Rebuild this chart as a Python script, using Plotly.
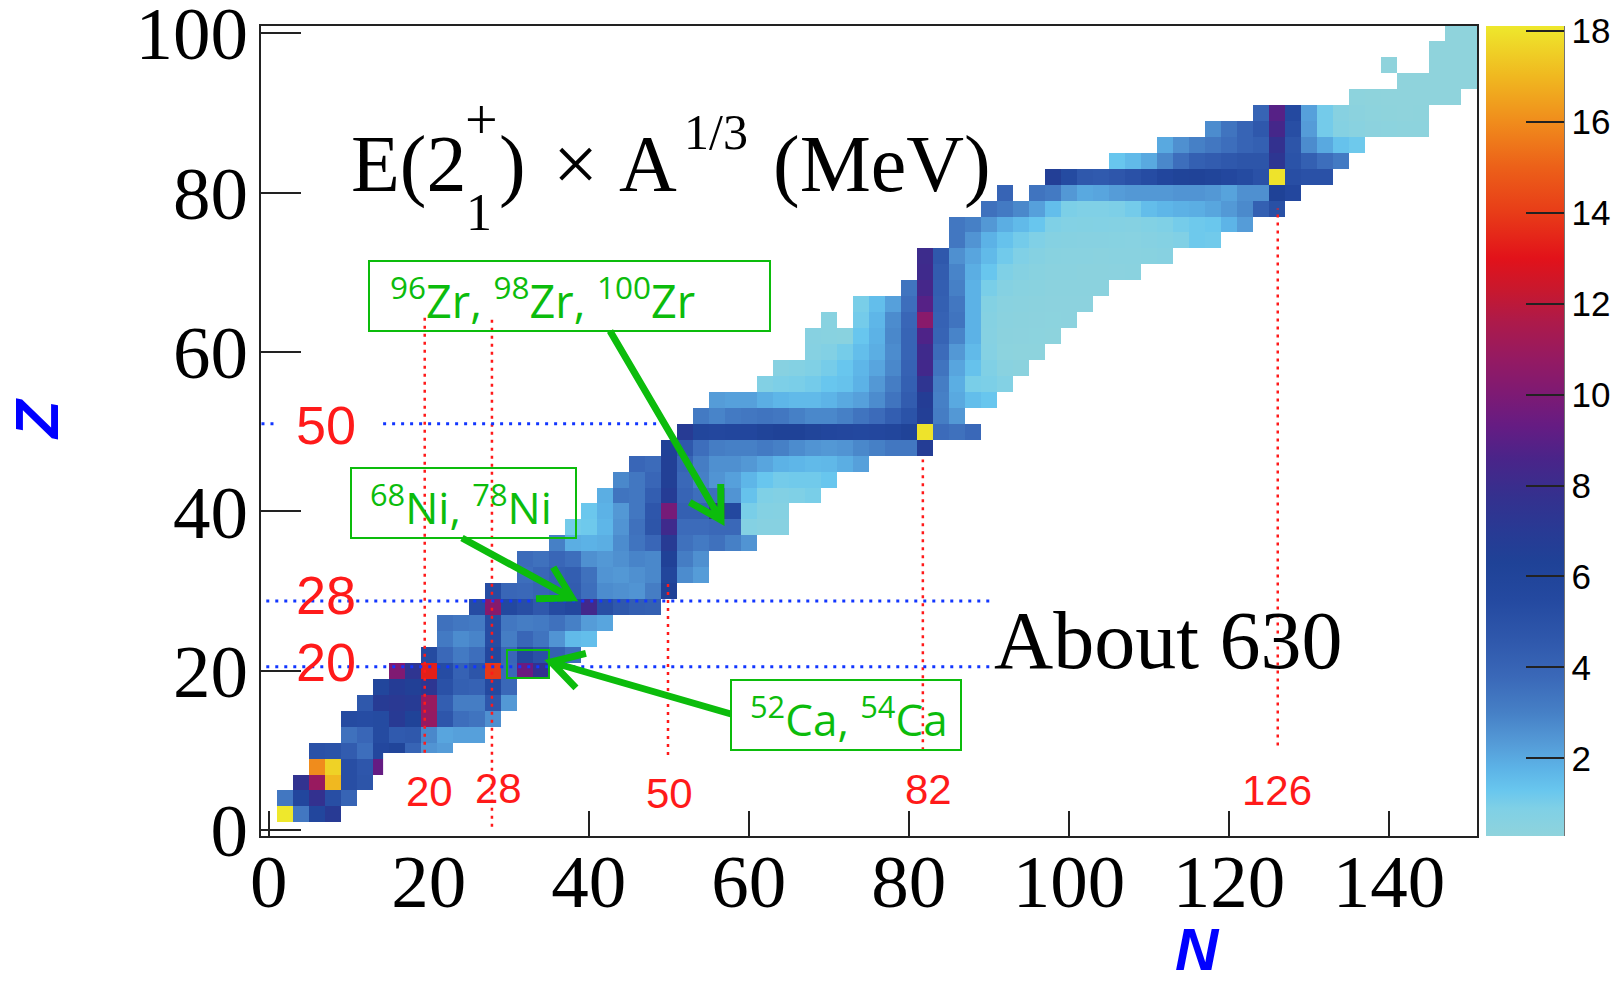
import math
import plotly.graph_objects as go

# E(2+_1) x A^(1/3) in MeV for even-even nuclei.
# One tuple per element: (Z, first N, values at N, N+2, N+4, ...); None = no nucleus drawn.
He = (2, 2, [18.5, 3.3, 5.8, 7.0])
Be = (4, 2, [3.3, 5.8, 7.7, 5.2, 4.0])
C = (6, 4, [7.6, 10.9, 17.0, 5.2, 4.8])
O = (8, 6, [16.0, 17.6, 5.2, 4.7, 9.3])
Ne = (10, 6, [5.0, 4.9, 4.4, 3.6, 5.7, 6.0, 4.0, 2.5, 2.3])
Mg = (12, 10, [3.5, 3.9, 5.4, 4.5, 4.6, 2.8, 2.1, 2.2, 2.2])
Si = (14, 10, [5.4, 5.3, 5.4, 7.0, 6.2, 10.8, 4.7, 3.6, 3.4, 2.6])
S = (16, 12, [4.6, 6.9, 7.1, 6.9, 10.9, 4.3, 3.1, 3.1, 4.7, 2.4])
Ar = (18, 14, [5.9, 6.8, 6.5, 7.3, 5.0, 4.2, 4.1, 5.5, 3.8])
Ca = (20, 16, [10.1, 7.4, 13.3, 5.3, 4.1, 4.8, 13.9, 3.8, 9.5, 7.7])
Ti = (22, 20, [5.4, 3.8, 3.2, 3.6, 5.7, 3.9, 5.7, 5.0, 4.2, 3.6])
Cr = (24, 22, [3.2, 2.7, 2.9, 5.3, 3.1, 3.9, 3.4, 2.5, 1.6, 1.5])
Fe = (26, 22, [3.5, 3.3, 3.2, 5.3, 3.3, 3.1, 3.2, 3.5, 3.0, 2.3, 2.1])
Ni = (28, 26, [5.3, 10.3, 5.6, 5.2, 4.6, 5.4, 5.7, 8.3, 5.2, 4.6, 4.3, 4.2])
Zn = (30, 28, [5.3, 3.9, 3.8, 4.0, 4.2, 4.4, 3.6, 2.7, 2.6, 2.5, 3.1, 6.4])
Ge = (32, 32, [3.6, 3.9, 4.2, 4.3, 3.5, 2.5, 2.4, 2.6, 2.8, 5.9, 2.7, 2.3])
Se = (34, 32, [3.7, 3.5, 3.9, 3.6, 2.6, 2.4, 2.6, 2.9, 2.8, 6.4, 3.1, 2.6])
Kr = (36, 36, [3.0, 1.9, 1.8, 1.9, 2.7, 3.4, 3.9, 6.9, 3.5, 3.2, 3.5, 3.0, 2.5])
Sr = (38, 38, [1.1, 1.2, 1.7, 2.5, 3.5, 4.8, 8.2, 3.7, 3.7, 3.8, 3.8, 0.7, 0.6, 0.6])
Zr = (40, 40, [1.25, 1.8, 2.4, 3.3, 4.7, 9.8, 4.2, 4.2, 8.0, 5.6, 1.0, 0.7, 0.66])
Mo = (42, 42, [1.9, 3.4, 3.3, 4.3, 6.8, 4.0, 3.6, 3.6, 2.5, 1.4, 0.9, 0.8, 0.9, 1.0])
Ru = (44, 44, [2.8, 3.3, 3.9, 6.5, 3.8, 3.0, 2.5, 2.2, 1.7, 1.3, 1.1, 1.15, 1.15, 1.3])
Pd = (46, 46, [3.9, 3.7, 6.5, 4.0, 3.1, 2.6, 2.6, 2.4, 2.1, 1.8, 1.7, 1.6, 1.65, 1.9, 2.2])
Cd = (48, 50, [6.4, 4.6, 3.6, 3.1, 3.0, 3.0, 3.2, 3.0, 2.7, 2.5, 2.4, 2.5, 2.8, 3.0, 3.3, 3.3, 6.7])
Sn = (50, 52, [6.9, 5.9, 5.7, 5.8, 5.8, 6.1, 6.3, 6.3, 6.0, 5.8, 5.7, 5.6, 5.7, 5.9, 6.2, 18.0,
               3.7, 3.5, 3.8])
Te = (52, 54, [3.2, 2.9, 3.2, 3.3, 3.4, 3.3, 3.0, 2.8, 2.8, 3.0, 3.4, 3.7, 4.3, 4.9, 6.6, 3.1, 2.4])
Xe = (54, 56, [2.3, 2.2, 2.2, 1.9, 1.7, 1.6, 1.6, 1.75, 2.0, 2.2, 2.7, 3.4, 4.4, 6.7, 3.0, 2.0,
               1.5, 1.3])
Ba = (56, 62, [0.8, 0.94, 0.98, 1.1, 1.3, 1.4, 1.8, 2.4, 3.1, 4.2, 7.4, 3.1, 1.9, 1.0, 0.95, 0.75])
Ce = (58, 64, [0.6, 0.7, 0.85, 1.05, 1.3, 1.7, 2.1, 2.8, 4.1, 8.3, 3.4, 2.1, 1.4, 0.85, 0.53, 0.43])
Nd = (60, 68, [0.65, 0.8, 1.07, 1.5, 1.9, 2.7, 4.0, 8.2, 3.7, 2.4, 1.6, 0.69, 0.39, 0.38, 0.36])
Sm = (62, 68, [0.6, 0.55, 0.5, 1.3, 1.8, 2.8, 4.0, 8.7, 4.0, 2.9, 1.8, 0.65, 0.44, 0.41, 0.39,
               0.38])
Gd = (64, 70, [0.55, None, 1.1, 1.7, 2.7, 3.9, 10.4, 4.1, 3.4, 1.8, 0.66, 0.48, 0.43, 0.41, 0.39,
               0.4])
Dy = (66, 74, [1.0, 1.5, 2.2, 3.6, 8.9, 4.2, 3.3, 1.8, 0.74, 0.53, 0.47, 0.44, 0.4, 0.42, 0.41])
Er = (68, 80, [3.4, 8.4, 4.3, 3.0, 1.8, 1.0, 0.68, 0.55, 0.5, 0.44, 0.44, 0.44, 0.43])
Yb = (70, 82, [8.2, 4.4, 2.9, 1.9, 1.3, 0.9, 0.67, 0.56, 0.49, 0.47, 0.44, 0.43, 0.46, 0.47])
Hf = (72, 82, [8.1, 4.6, 2.6, 2.1, 1.6, 1.15, 0.87, 0.68, 0.55, 0.53, 0.51, 0.49, 0.52, 0.53, 0.56,
               0.61])
W = (74, 86, [3.3, 2.5, 1.8, 1.4, 1.1, 0.87, 0.68, 0.62, 0.61, 0.6, 0.59, 0.57, 0.63, 0.7, 0.82,
              1.19, 1.15])
Os = (76, 86, [3.3, 3.0, 2.4, 1.9, 1.6, 1.3, 0.9, 0.76, 0.74, 0.75, 0.72, 0.68, 0.78, 0.89, 1.08,
               1.19, 1.26, 1.74, 2.3])
Pt = (78, 90, [3.5, 3.2, 2.8, 2.2, 1.5, 0.96, 0.87, 0.88, 0.93, 1.09, 1.52, 1.7, 1.83, 1.9, 2.07,
               2.37, 2.75, 4.2, 5.1])
Hg = (80, 92, [4.0, None, 3.4, 3.2, 2.4, 2.0, 2.1, 2.3, 2.4, 2.4, 2.4, 2.5, 2.5, 2.4, 2.15, 2.6,
               2.6, 6.3, 5.7])
Pb = (82, 98, [6.6, 5.4, 4.6, 4.5, 4.7, 5.0, 5.3, 5.8, 6.1, 6.2, 6.0, 5.7, 5.4, 5.0, 18.0, 5.2,
               5.0, 5.0])
Po = (84, 106, [1.3, 1.6, 2.0, 2.8, 3.6, 4.2, 4.4, 4.6, 4.8, 4.8, 7.3, 4.9, 4.2, 3.6, 3.2])
Rn = (86, 112, [2.0, 2.6, 3.0, 3.3, 3.6, 4.0, 4.2, 7.7, 4.8, 2.7, 2.0, 1.4, 1.2])
Ra = (88, 118, [2.7, 3.4, 4.0, 4.6, 8.4, 5.2, 2.3, 1.1, 0.67, 0.51, 0.41, 0.39, 0.38, 0.37])
Th = (90, 124, [4.0, 8.9, 5.5, 2.2, 1.1, 0.6, 0.44, 0.35, 0.32, 0.30, 0.31])
U = (92, 136, [0.36, 0.32, 0.3, 0.28, 0.28, 0.28, 0.28])
Pu = (94, 142, [0.28, 0.27, 0.27, 0.27, 0.27])
Cm = (96, 140, [0.3, None, None, 0.27, 0.27, 0.27])
Cf = (98, 146, [0.28, 0.27, 0.27])
Fm = (100, 148, [0.28, 0.27])

ROWS = [He, Be, C, O, Ne, Mg, Si, S, Ar, Ca, Ti, Cr, Fe, Ni, Zn, Ge, Se, Kr, Sr, Zr, Mo, Ru,
        Pd, Cd, Sn, Te, Xe, Ba, Ce, Nd, Sm, Gd, Dy, Er, Yb, Hf, W, Os, Pt, Hg, Pb, Po, Rn, Ra,
        Th, U, Pu, Cm, Cf, Fm]

N_TICKS = [0, 20, 40, 60, 80, 100, 120, 140]
Z_TICKS = [0, 20, 40, 60, 80, 100]
CB_TICKS = [2, 4, 6, 8, 10, 12, 14, 16, 18]
ZMIN, ZMAX = 0.29, 18.11

# palette stops (value, colour)
CSTOPS = [(0.29, "#8fd3dc"), (0.9, "#7fd0e6"), (1.3, "#68c6ee"), (1.8, "#5cb2e6"),
          (2.3, "#559cd8"), (3.0, "#4680c6"), (3.8, "#3a68b8"), (4.6, "#2f58ac"),
          (5.5, "#2449a0"), (6.3, "#1f4297"), (7.0, "#283a94"), (7.8, "#35308e"),
          (8.6, "#4a2489"), (9.3, "#651c83"), (10.0, "#7d1a74"), (10.8, "#951a62"),
          (11.6, "#ad1a4a"), (12.3, "#c8182e"), (13.0, "#e2121a"), (14.0, "#e83c18"),
          (15.0, "#ec6019"), (16.0, "#f08c1c"), (17.0, "#f0b820"), (18.11, "#eee82c")]
colorscale = [[(v - ZMIN) / (ZMAX - ZMIN), c] for v, c in CSTOPS]

# ---- grid of cells (2x2 bins centred on even N, Z) ----
n_centres = list(range(0, 154, 2))
z_centres = list(range(0, 104, 2))
grid = [[None] * len(n_centres) for _ in z_centres]
for z, n0, vals in ROWS:
    for k, v in enumerate(vals):
        if v is not None:
            grid[z // 2][(n0 + 2 * k) // 2] = v

# plot-area pixel frame, used to place the decorations
L, R, T, B = 261, 1477, 26, 836


def px(x, y):
    return (x - L) / (R - L), (B - y) / (B - T)


fig = go.Figure()
fig.add_trace(go.Heatmap(
    x=n_centres, y=z_centres, z=grid,
    colorscale=colorscale, zmin=ZMIN, zmax=ZMAX, hoverongaps=False,
    colorbar=dict(
        x=px(1486, 0)[0], xanchor="left", xpad=0, ypad=0,
        y=0.5, yanchor="middle", len=1, lenmode="fraction",
        thickness=78, thicknessmode="pixels", outlinewidth=0,
        ticks="inside", ticklen=38, tickwidth=1.5, tickcolor="#222",
        tickvals=CB_TICKS,
        tickfont=dict(family="Liberation Sans", size=35, color="black"),
    ),
))

shapes = []

# white patch behind the lower magic-number labels
shapes.append(dict(type="rect", xref="x", yref="y", x0=14.3, x1=23.3, y0=-0.75, y1=9.66,
                   fillcolor="white", line=dict(width=0), layer="above"))

RED = "#ff1a1a"
BLUE = "#1236ff"
# vertical (neutron) magic lines: x, bottom, top
for xv, y0, y1 in [(19.5, 9.7, 64.3), (27.9, 0.4, 64.3), (49.9, 9.4, 31.0),
                   (81.75, 10.0, 46.5), (126.1, 10.6, 78.0)]:
    shapes.append(dict(type="line", xref="x", yref="y", x0=xv, x1=xv, y0=y0, y1=y1,
                       line=dict(color=RED, width=2.5, dash="3px,5px"), layer="above"))
# horizontal (proton) magic lines: y, left, right
for yv, x0, x1 in [(20.5, -0.3, 90.5), (28.75, -0.3, 90.3), (51.0, -0.9, 1.3),
                   (51.0, 14.3, 49.2)]:
    shapes.append(dict(type="line", xref="x", yref="y", x0=x0, x1=x1, y0=yv, y1=yv,
                       line=dict(color=BLUE, width=3, dash="3px,6px"), layer="above"))

GREEN = "#0cbc0c"


def box(x0, y0, x1, y1, w=2):
    a, b = px(x0, y0)
    c, d = px(x1, y1)
    return dict(type="rect", xref="paper", yref="paper", x0=a, y0=d, x1=c, y1=b,
                line=dict(color=GREEN, width=w), fillcolor="rgba(0,0,0,0)", layer="above")


def arrow(x0, y0, x1, y1, head=36, spread=math.radians(30)):
    ang = math.atan2(y1 - y0, x1 - x0)
    pts = []
    for s in (1, -1):
        a = ang + math.pi + s * spread
        pts.append((x1 + head * math.cos(a), y1 + head * math.sin(a)))
    t0 = px(x0, y0)
    t1 = px(x1, y1)
    h1 = px(*pts[0])
    h2 = px(*pts[1])
    path = (f"M{t0[0]},{t0[1]} L{t1[0]},{t1[1]} "
            f"M{h1[0]},{h1[1]} L{t1[0]},{t1[1]} L{h2[0]},{h2[1]}")
    return dict(type="path", xref="paper", yref="paper", path=path,
                line=dict(color=GREEN, width=7), layer="above")


shapes += [
    box(369, 261, 770, 331), box(351, 468, 576, 538), box(731, 680, 961, 750),
    box(507, 650, 549, 678),
    arrow(610, 331, 721, 520), arrow(462, 538, 572, 598), arrow(731, 714, 551, 662),
]
# right edge of the palette
cbx = px(1564, 0)[0]
shapes.append(dict(type="line", xref="paper", yref="paper", x0=cbx, x1=cbx, y0=0, y1=1,
                   line=dict(color="#444", width=1.5)))

annotations = []


def label(text, x, y, size, color="black", family="Liberation Serif",
          xanchor="center", yanchor="middle", **kw):
    xp, yp = px(x, y)
    d = dict(text=text, x=xp, y=yp, xref="paper", yref="paper", showarrow=False,
             font=dict(size=size, color=color, family=family),
             xanchor=xanchor, yanchor=yanchor)
    d.update(kw)
    return d


# title E(2+_1) x A^(1/3) (MeV)
annotations += [
    label("E(2", 349, 164, 80, xanchor="left"),
    label("+", 481, 119, 58),
    label("1", 479, 213, 52),
    label(")", 497, 164, 80, xanchor="left"),
    label("×", 575, 164, 80),
    label("A", 617, 164, 80, xanchor="left"),
    label("1/3", 716, 132, 50),
    label("(MeV)", 771, 164, 80, xanchor="left"),
    label("About 630", 1168, 640, 82),
]

# magic-number labels
SANS = "Liberation Sans"
annotations += [
    label("50", 326, 425, 54, RED, SANS),
    label("28", 326, 595, 54, RED, SANS),
    label("20", 326, 662, 54, RED, SANS),
    label("20", 429, 791, 42, RED, SANS),
    label("28", 498, 788, 42, RED, SANS),
    label("50", 669, 793, 42, RED, SANS),
    label("82", 928, 789, 42, RED, SANS),
    label("126", 1277, 790, 42, RED, SANS),
]

# nuclide call-outs
annotations += [
    label("<sup>96</sup>Zr, <sup>98</sup>Zr, <sup>100</sup>Zr", 388, 298, 45, GREEN,
          "Open Sans", xanchor="left"),
    label("<sup>68</sup>Ni, <sup>78</sup>Ni", 368, 505, 44, GREEN, "Open Sans",
          xanchor="left"),
    label("<sup>52</sup>Ca, <sup>54</sup>Ca", 748, 717, 44, GREEN, "Open Sans",
          xanchor="left"),
]

# axis titles
annotations += [
    label("<b><i>N</i></b>", 1197, 985, 60, "#0000ff", SANS, yanchor="bottom"),
    label("<b><i>Z</i></b>", 36, 419, 62, "#0000ff", SANS, textangle=-90),
]

axis_common = dict(showgrid=False, zeroline=False, showline=True, mirror=True,
                   linecolor="#222", linewidth=2, ticks="inside", tickwidth=2,
                   tickcolor="#222", ticklabeloverflow="allow",
                   tickfont=dict(family="Liberation Serif", size=75, color="black"))

fig.update_layout(
    width=1622, height=986,
    margin=dict(l=L, r=1622 - R, t=T, b=986 - B, autoexpand=False),
    paper_bgcolor="white", plot_bgcolor="white",
    showlegend=False,
    xaxis=dict(range=[-0.96, 151.0], tickvals=N_TICKS, ticklen=25,
               ticklabelstandoff=-21, **axis_common),
    yaxis=dict(range=[-0.75, 100.9], tickvals=Z_TICKS, ticklen=40,
               ticklabelstandoff=-4, **axis_common),
    shapes=shapes,
    annotations=annotations,
)

fig.write_html("out.html")
